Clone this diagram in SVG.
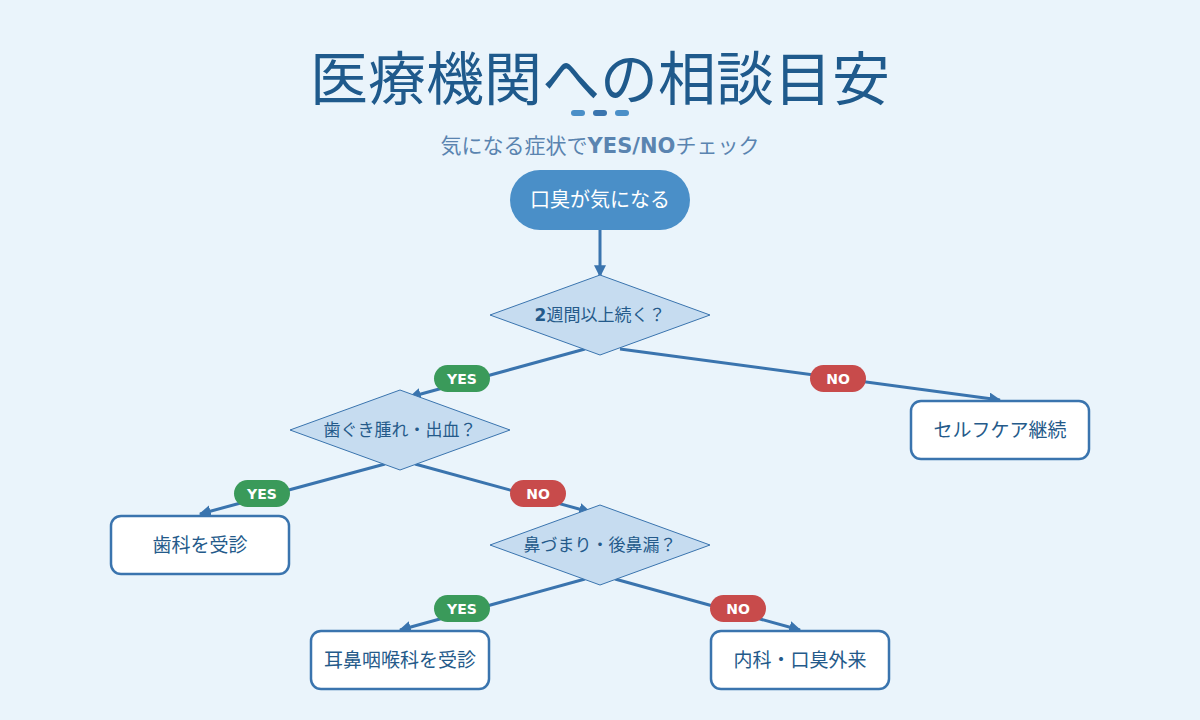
<svg xmlns="http://www.w3.org/2000/svg" width="1200" height="720" viewBox="0 0 1200 720">
<style>
text{font-family:"DejaVu Sans","Noto Sans CJK JP",sans-serif;text-anchor:middle;dominant-baseline:central}
.dia{fill:#c6dcf0;stroke:#3a74ae;stroke-width:1}
.dt{font-size:17px;fill:#245a8a}
.box{fill:#fff;stroke:#3a74ae;stroke-width:2.5}
.bt{font-size:19px;fill:#245a8a}
.ln{stroke:#3a74ae;stroke-width:3;fill:none;marker-end:url(#ah)}
.yes{fill:#3a9a5a}.no{fill:#c84b4b}
.lb{font-size:14px;font-weight:bold;fill:#fff}
</style>
<defs><marker id="ah" viewBox="0 0 10 10" refX="9" refY="5" markerWidth="4" markerHeight="4" orient="auto" markerUnits="strokeWidth"><path d="M0 0L10 5L0 10z" fill="#3a74ae"/></marker></defs>
<rect width="1200" height="720" fill="#eaf4fb"/>
<text x="600" y="80" font-size="58" fill="#1f5a8c">医療機関への相談目安</text>
<rect x="571" y="110" width="14" height="6" rx="3" fill="#4a8fc8"/>
<rect x="593" y="110" width="14" height="6" rx="3" fill="#3a74ae"/>
<rect x="615" y="110" width="14" height="6" rx="3" fill="#4a8fc8"/>
<text x="600" y="146" font-size="21" fill="#5a84b0">気になる症状で<tspan font-weight="bold">YES/NO</tspan>チェック</text>
<g id="connectors">
<line class="ln" x1="600" y1="230" x2="600" y2="276"/>
<line class="ln" x1="585" y1="349" x2="410" y2="397"/>
<line class="ln" x1="620" y1="349" x2="1000" y2="400"/>
<line class="ln" x1="385" y1="464" x2="200" y2="514"/>
<line class="ln" x1="415" y1="464" x2="590" y2="512"/>
<line class="ln" x1="585" y1="579" x2="400" y2="630"/>
<line class="ln" x1="615" y1="579" x2="800" y2="630"/>
<rect class="yes" x="434" y="365" width="56" height="27" rx="13.5"/><text class="lb" x="462" y="378.5">YES</text>
<rect class="no" x="810" y="365" width="56" height="27" rx="13.5"/><text class="lb" x="838" y="378.5">NO</text>
<rect class="yes" x="234" y="480" width="56" height="27" rx="13.5"/><text class="lb" x="262" y="493.5">YES</text>
<rect class="no" x="510" y="480" width="56" height="27" rx="13.5"/><text class="lb" x="538" y="493.5">NO</text>
<rect class="yes" x="434" y="595" width="56" height="27" rx="13.5"/><text class="lb" x="462" y="608.5">YES</text>
<rect class="no" x="710" y="595" width="56" height="27" rx="13.5"/><text class="lb" x="738" y="608.5">NO</text>
</g>
<g id="start"><rect x="510" y="170" width="180" height="60" rx="30" fill="#4a8fc8"/><text x="600" y="200" font-size="20" fill="#fff">口臭が気になる</text></g>
<g id="d1"><polygon class="dia" points="600,275 710,315 600,355 490,315"/><text class="dt" x="600" y="315"><tspan font-weight="bold">2</tspan>週間以上続く？</text></g>
<g id="d2"><polygon class="dia" points="400,390 510,430 400,470 290,430"/><text class="dt" x="400" y="430">歯ぐき腫れ・出血？</text></g>
<g id="d3"><polygon class="dia" points="600,505 710,545 600,585 490,545"/><text class="dt" x="600" y="545">鼻づまり・後鼻漏？</text></g>
<g id="self"><rect class="box" x="911" y="401" width="178" height="58" rx="10"/><text class="bt" x="1000" y="430">セルフケア継続</text></g>
<g id="dental"><rect class="box" x="111" y="516" width="178" height="58" rx="10"/><text class="bt" x="200" y="545">歯科を受診</text></g>
<g id="ent"><rect class="box" x="311" y="631" width="178" height="58" rx="10"/><text class="bt" x="400" y="660">耳鼻咽喉科を受診</text></g>
<g id="internal"><rect class="box" x="711" y="631" width="178" height="58" rx="10"/><text class="bt" x="800" y="660">内科・口臭外来</text></g>
</svg>
